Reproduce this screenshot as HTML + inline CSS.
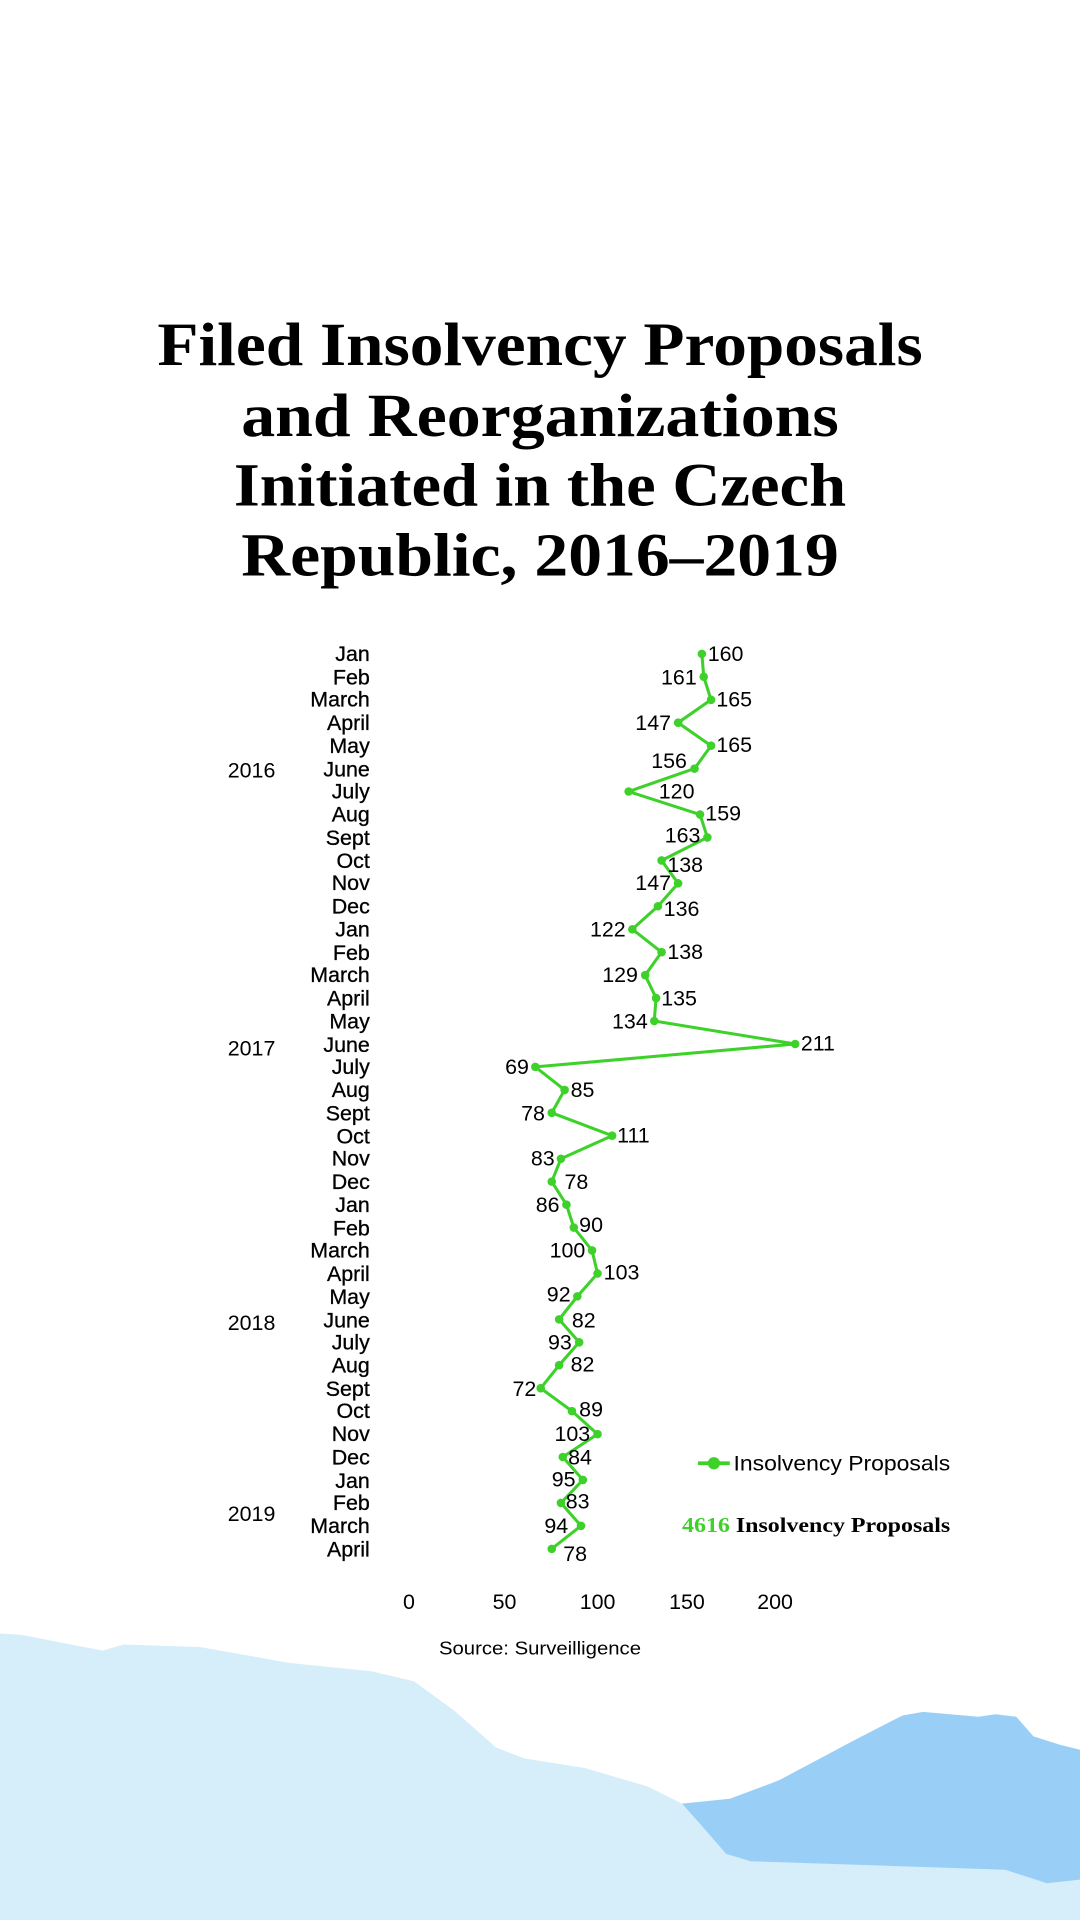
<!DOCTYPE html>
<html><head><meta charset="utf-8"><style>html,body{margin:0;padding:0;background:#fff}svg{display:block}</style></head>
<body>
<svg width="1080" height="1920" viewBox="0 0 882 1568" xmlns="http://www.w3.org/2000/svg">
<rect width="882" height="1568" fill="#fff"/>
<path d="M557,1473 L596,1469 L636,1454 L698,1421 L737,1401 L754,1398 L799,1402 L813,1400 L830,1402 L844,1418 L866,1425 L882,1429 L882,1568 L557,1568 Z" fill="#99cff6"/>
<path d="M0,1334 L17,1335 L84,1348 L101,1343 L163,1345 L236,1358 L304,1365 L338,1373 L371,1397 L405,1427 L428,1436 L478,1444 L529,1459 L557,1473 L574,1492 L593,1514 L613,1520 L703,1523 L821,1527 L855,1538 L882,1535 L882,1568 L0,1568 Z" fill="#d6eef9"/>
<g font-family="Liberation Serif, serif" font-weight="bold" font-size="50" fill="#000" text-anchor="middle">
<text x="441" y="298" textLength="625" lengthAdjust="spacingAndGlyphs">Filed Insolvency Proposals</text>
<text x="441" y="356" textLength="488" lengthAdjust="spacingAndGlyphs">and Reorganizations</text>
<text x="441" y="413" textLength="500" lengthAdjust="spacingAndGlyphs">Initiated in the Czech</text>
<text x="441" y="470" textLength="488" lengthAdjust="spacingAndGlyphs">Republic, 2016–2019</text>
</g>
<g font-family="Liberation Sans, sans-serif" font-size="17.5" fill="#000" text-anchor="end" stroke="#000" stroke-width="0.25">
<text x="302" y="540">Jan</text><text x="302" y="559">Feb</text><text x="302" y="577">March</text><text x="302" y="596">April</text><text x="302" y="615">May</text><text x="302" y="634">June</text><text x="302" y="652">July</text><text x="302" y="671">Aug</text><text x="302" y="690">Sept</text><text x="302" y="709">Oct</text><text x="302" y="727">Nov</text><text x="302" y="746">Dec</text>
<text x="302" y="765">Jan</text><text x="302" y="784">Feb</text><text x="302" y="802">March</text><text x="302" y="821">April</text><text x="302" y="840">May</text><text x="302" y="859">June</text><text x="302" y="877">July</text><text x="302" y="896">Aug</text><text x="302" y="915">Sept</text><text x="302" y="934">Oct</text><text x="302" y="952">Nov</text><text x="302" y="971">Dec</text>
<text x="302" y="990">Jan</text><text x="302" y="1009">Feb</text><text x="302" y="1027">March</text><text x="302" y="1046">April</text><text x="302" y="1065">May</text><text x="302" y="1084">June</text><text x="302" y="1102">July</text><text x="302" y="1121">Aug</text><text x="302" y="1140">Sept</text><text x="302" y="1158">Oct</text><text x="302" y="1177">Nov</text><text x="302" y="1196">Dec</text>
<text x="302" y="1215">Jan</text><text x="302" y="1233">Feb</text><text x="302" y="1252">March</text><text x="302" y="1271">April</text>
</g>
<g font-family="Liberation Sans, sans-serif" font-size="17.5" fill="#000">
<text x="186" y="635">2016</text><text x="186" y="862">2017</text><text x="186" y="1086">2018</text><text x="186" y="1242">2019</text>
</g>
<polyline fill="none" stroke="#3dd12a" stroke-width="2.5" stroke-linejoin="round" points="573.2,534 574.7,552.7 580.7,571.5 553.8,590.2 580.7,609 567.2,627.7 513.4,646.4 571.7,665.2 577.7,683.9 540.3,702.7 553.8,721.4 537.3,740.1 516.4,758.9 540.3,777.6 526.9,796.4 535.8,815.1 534.3,833.8 649.4,852.6 437.2,871.3 461.1,890.1 450.6,908.8 499.9,927.5 458.1,946.3 450.6,965 462.6,983.8 468.6,1002.5 483.5,1021.2 488,1040 471.5,1058.7 456.6,1077.5 473,1096.2 456.6,1114.9 441.6,1133.7 467.1,1152.4 488,1171.2 459.6,1189.9 476,1208.6 458.1,1227.4 474.5,1246.1 450.6,1264.9"/>
<g fill="#3dd12a">
<circle cx="573.2" cy="534" r="3.5"/><circle cx="574.7" cy="552.7" r="3.5"/><circle cx="580.7" cy="571.5" r="3.5"/><circle cx="553.8" cy="590.2" r="3.5"/><circle cx="580.7" cy="609" r="3.5"/><circle cx="567.2" cy="627.7" r="3.5"/><circle cx="513.4" cy="646.4" r="3.5"/><circle cx="571.7" cy="665.2" r="3.5"/><circle cx="577.7" cy="683.9" r="3.5"/><circle cx="540.3" cy="702.7" r="3.5"/><circle cx="553.8" cy="721.4" r="3.5"/><circle cx="537.3" cy="740.1" r="3.5"/><circle cx="516.4" cy="758.9" r="3.5"/><circle cx="540.3" cy="777.6" r="3.5"/><circle cx="526.9" cy="796.4" r="3.5"/><circle cx="535.8" cy="815.1" r="3.5"/><circle cx="534.3" cy="833.8" r="3.5"/><circle cx="649.4" cy="852.6" r="3.5"/><circle cx="437.2" cy="871.3" r="3.5"/><circle cx="461.1" cy="890.1" r="3.5"/><circle cx="450.6" cy="908.8" r="3.5"/><circle cx="499.9" cy="927.5" r="3.5"/><circle cx="458.1" cy="946.3" r="3.5"/><circle cx="450.6" cy="965" r="3.5"/><circle cx="462.6" cy="983.8" r="3.5"/><circle cx="468.6" cy="1002.5" r="3.5"/><circle cx="483.5" cy="1021.2" r="3.5"/><circle cx="488" cy="1040" r="3.5"/><circle cx="471.5" cy="1058.7" r="3.5"/><circle cx="456.6" cy="1077.5" r="3.5"/><circle cx="473" cy="1096.2" r="3.5"/><circle cx="456.6" cy="1114.9" r="3.5"/><circle cx="441.6" cy="1133.7" r="3.5"/><circle cx="467.1" cy="1152.4" r="3.5"/><circle cx="488" cy="1171.2" r="3.5"/><circle cx="459.6" cy="1189.9" r="3.5"/><circle cx="476" cy="1208.6" r="3.5"/><circle cx="458.1" cy="1227.4" r="3.5"/><circle cx="474.5" cy="1246.1" r="3.5"/><circle cx="450.6" cy="1264.9" r="3.5"/>
</g>
<g font-family="Liberation Sans, sans-serif" font-size="17.5" fill="#000">
<text x="578" y="540">160</text>
<text x="569" y="559" text-anchor="end">161</text>
<text x="585" y="577">165</text>
<text x="548" y="596" text-anchor="end">147</text>
<text x="585" y="614">165</text>
<text x="561" y="627" text-anchor="end">156</text>
<text x="538" y="652">120</text>
<text x="576" y="670">159</text>
<text x="572" y="688" text-anchor="end">163</text>
<text x="545" y="712">138</text>
<text x="548" y="727" text-anchor="end">147</text>
<text x="542" y="748">136</text>
<text x="511" y="765" text-anchor="end">122</text>
<text x="545" y="783">138</text>
<text x="521" y="802" text-anchor="end">129</text>
<text x="540" y="821">135</text>
<text x="529" y="840" text-anchor="end">134</text>
<text x="654" y="858">211</text>
<text x="432" y="877" text-anchor="end">69</text>
<text x="466" y="896">85</text>
<text x="445" y="915" text-anchor="end">78</text>
<text x="504" y="933">111</text>
<text x="453" y="952" text-anchor="end">83</text>
<text x="461" y="971">78</text>
<text x="457" y="990" text-anchor="end">86</text>
<text x="473" y="1006">90</text>
<text x="478" y="1027" text-anchor="end">100</text>
<text x="493" y="1045">103</text>
<text x="466" y="1063" text-anchor="end">92</text>
<text x="467" y="1084">82</text>
<text x="467" y="1102" text-anchor="end">93</text>
<text x="466" y="1120">82</text>
<text x="438" y="1140" text-anchor="end">72</text>
<text x="473" y="1157">89</text>
<text x="482" y="1177" text-anchor="end">103</text>
<text x="464" y="1196">84</text>
<text x="470" y="1214" text-anchor="end">95</text>
<text x="462" y="1232">83</text>
<text x="464" y="1252" text-anchor="end">94</text>
<text x="460" y="1275">78</text>
</g>
<line x1="570" y1="1195" x2="596" y2="1195" stroke="#3dd12a" stroke-width="3"/>
<circle cx="583" cy="1195" r="5" fill="#3dd12a"/>
<text x="599" y="1201" font-family="Liberation Sans, sans-serif" font-size="17.5" fill="#000" textLength="177" lengthAdjust="spacingAndGlyphs">Insolvency Proposals</text>
<text x="776" y="1251" text-anchor="end" font-family="Liberation Serif, serif" font-weight="bold" font-size="17" textLength="219" lengthAdjust="spacingAndGlyphs"><tspan fill="#3dd12a">4616</tspan><tspan fill="#000"> Insolvency Proposals</tspan></text>
<g font-family="Liberation Sans, sans-serif" font-size="17.5" fill="#000" text-anchor="middle">
<text x="334" y="1314">0</text><text x="412" y="1314">50</text><text x="488" y="1314">100</text><text x="561" y="1314">150</text><text x="633" y="1314">200</text>
</g>
<text x="441" y="1351" text-anchor="middle" font-family="Liberation Sans, sans-serif" font-size="15" fill="#000" textLength="165" lengthAdjust="spacingAndGlyphs">Source: Surveilligence</text>
</svg>
</body></html>
